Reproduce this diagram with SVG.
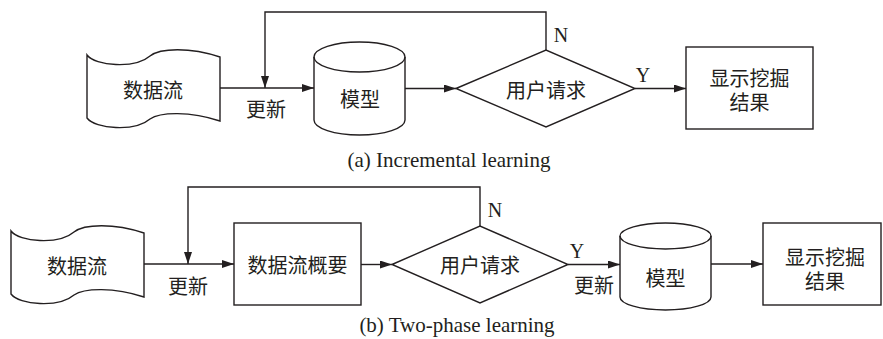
<svg xmlns="http://www.w3.org/2000/svg" width="883" height="339" viewBox="0 0 883 339">
<defs>
<marker id="ah" viewBox="0 0 12 8" refX="12" refY="4" markerWidth="12" markerHeight="8" markerUnits="userSpaceOnUse" orient="auto">
<path d="M0,0 L12,4 L0,8 Z" fill="#231f20"/>
</marker>
<style>
.s{fill:#fff;stroke:#231f20;stroke-width:1.4}
.c{fill:none;stroke:#231f20;stroke-width:1.4}
.cn{font-family:"Noto Sans CJK SC","Noto Sans",sans-serif;font-size:20px;fill:#231f20;text-anchor:middle;dominant-baseline:central}
.en{font-family:"Liberation Serif","Times New Roman",serif;font-size:20px;fill:#231f20;text-anchor:middle}
.cap{font-family:"Liberation Serif","Times New Roman",serif;font-size:21px;fill:#231f20;text-anchor:middle}
</style>
</defs>
<rect width="883" height="339" fill="#fff"/>

<!-- (a) Incremental learning -->
<g id="a-stream">
<path class="s" d="M87,55 C95,66 135,69 150,56 C160,48 190,47 220,57 L220,121 C190,111 160,112 150,119 C135,132 95,129 87,118 Z"/>
<text class="cn" x="153" y="89">数据流</text>
</g>
<g id="a-model">
<path class="s" d="M314,57 A45.5,15 0 0 1 405,57 L405,120 A45.5,15 0 0 1 314,120 Z"/>
<path class="c" d="M314,57 A45.5,15 0 0 0 405,57"/>
<text class="cn" x="360" y="98">模型</text>
</g>
<g id="a-request">
<path class="s" d="M456,88.5 L546,50 L635,88.5 L546,127 Z"/>
<text class="cn" x="546" y="89">用户请求</text>
</g>
<g id="a-result">
<rect class="s" x="686" y="47" width="127" height="82"/>
<text class="cn"><tspan x="749.5" y="77">显示挖掘</tspan><tspan x="749.5" y="101">结果</tspan></text>
</g>
<g id="a-connectors">
<path class="c" d="M220,88 L314,88" marker-end="url(#ah)"/>
<path class="c" d="M546,50 L546,12 L265,12 L265,88" marker-end="url(#ah)"/>
<path class="c" d="M405,88.5 L456,88.5" marker-end="url(#ah)"/>
<path class="c" d="M635,88.5 L686,88.5" marker-end="url(#ah)"/>
<text class="cn" x="266" y="108">更新</text>
<text class="en" x="561" y="42">N</text>
<text class="en" x="643" y="82">Y</text>
</g>
<text class="cap" x="449" y="167">(a) Incremental learning</text>

<!-- (b) Two-phase learning -->
<g id="b-stream">
<path class="s" d="M11,231 C19,242 59,245 74,232 C84,224 114,223 144,233 L144,297 C114,287 84,288 74,295 C59,308 19,305 11,294 Z"/>
<text class="cn" x="77" y="265">数据流</text>
</g>
<g id="b-summary">
<rect class="s" x="234" y="223" width="127" height="82"/>
<text class="cn" x="297.5" y="264">数据流概要</text>
</g>
<g id="b-request">
<path class="s" d="M392,264.5 L480,226 L568,264.5 L480,303 Z"/>
<text class="cn" x="480" y="264">用户请求</text>
</g>
<g id="b-model">
<path class="s" d="M620,236 A45.5,13 0 0 1 711,236 L711,297 A45.5,13 0 0 1 620,297 Z"/>
<path class="c" d="M620,236 A45.5,13 0 0 0 711,236"/>
<text class="cn" x="665.5" y="277">模型</text>
</g>
<g id="b-result">
<rect class="s" x="763" y="223" width="118" height="82"/>
<text class="cn"><tspan x="825" y="256">显示挖掘</tspan><tspan x="825" y="280">结果</tspan></text>
</g>
<g id="b-connectors">
<path class="c" d="M144,264 L234,264" marker-end="url(#ah)"/>
<path class="c" d="M480,226 L480,187 L188,187 L188,264" marker-end="url(#ah)"/>
<path class="c" d="M361,264.5 L392,264.5" marker-end="url(#ah)"/>
<path class="c" d="M568,264.5 L620,264.5" marker-end="url(#ah)"/>
<path class="c" d="M711,264 L763,264" marker-end="url(#ah)"/>
<text class="cn" x="188" y="285">更新</text>
<text class="cn" x="594" y="284">更新</text>
<text class="en" x="495" y="217">N</text>
<text class="en" x="577" y="258">Y</text>
</g>
<text class="cap" x="457" y="332">(b) Two-phase learning</text>
</svg>
